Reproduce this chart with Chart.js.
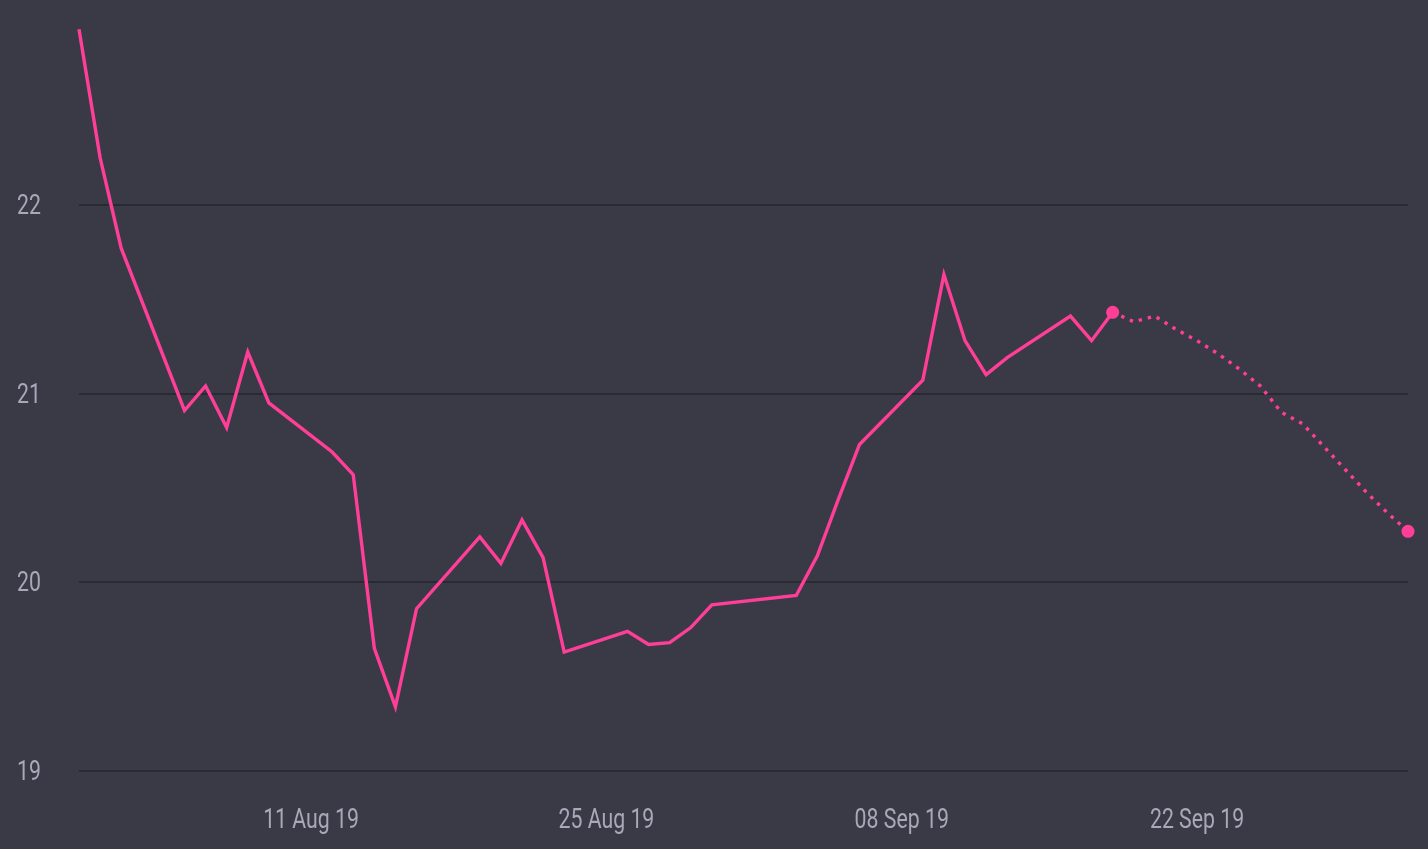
<!DOCTYPE html>
<html>
<head>
<meta charset="utf-8">
<title>Price chart</title>
<script src="https://cdn.jsdelivr.net/npm/chart.js@4/dist/chart.umd.min.js"></script>
<style>
    html, body {
        margin: 0;
        padding: 0;
        background: #3a3a47;
    }
    #chart-wrap {
        position: relative;
        width: 1428px;
        height: 849px;
    }
</style>
</head>
<body>
<div id="chart-wrap">
    <canvas id="priceChart"></canvas>
</div>
<script>
// Actual closing values (trading days only)
const actualDates = [
    '2019-07-31', '2019-08-01', '2019-08-02', '2019-08-05', '2019-08-06',
    '2019-08-07', '2019-08-08', '2019-08-09', '2019-08-12', '2019-08-13',
    '2019-08-14', '2019-08-15', '2019-08-16', '2019-08-19', '2019-08-20',
    '2019-08-21', '2019-08-22', '2019-08-23', '2019-08-26', '2019-08-27',
    '2019-08-28', '2019-08-29', '2019-08-30', '2019-09-03', '2019-09-04',
    '2019-09-05', '2019-09-06', '2019-09-09', '2019-09-10', '2019-09-11',
    '2019-09-12', '2019-09-13', '2019-09-16', '2019-09-17', '2019-09-18'
];
const actualValues = [
    22.93, 22.25, 21.77, 20.91, 21.04,
    20.82, 21.22, 20.95, 20.69, 20.57,
    19.65, 19.34, 19.86, 20.24, 20.10,
    20.33, 20.13, 19.63, 19.74, 19.67,
    19.68, 19.76, 19.88, 19.93, 20.14,
    20.44, 20.73, 21.07, 21.63, 21.28,
    21.10, 21.19, 21.41, 21.28, 21.43
];

// Forecast (dotted)
const forecastDates = [
    '2019-09-18', '2019-09-19', '2019-09-20', '2019-09-21', '2019-09-22',
    '2019-09-23', '2019-09-24', '2019-09-25', '2019-09-26', '2019-09-27',
    '2019-09-28', '2019-09-29', '2019-09-30', '2019-10-01', '2019-10-02'
];
const forecastValues = [
    21.43, 21.38, 21.41, 21.34, 21.28,
    21.21, 21.13, 21.04, 20.90, 20.84,
    20.72, 20.60, 20.48, 20.37, 20.27
];

const xTickDates = ['2019-08-11', '2019-08-25', '2019-09-08', '2019-09-22'];
const xTickLabels = ['11 Aug 19', '25 Aug 19', '08 Sep 19', '22 Sep 19'];
const yTicks = [19, 20, 21, 22];

const startDate = '2019-07-31';
const endDate = '2019-10-02';

const LABEL_COLOR = '#a9a8b9';
const LABEL_FONT = "28px Roboto, 'Noto Sans', sans-serif";
const LABEL_SQUEEZE = 0.76;   // the original face is a condensed one

let priceChart = null;

/**
 * Days since the first date of the chart
 */
function dayIndex(dateStr) {
    const ms = Date.parse(dateStr + 'T00:00:00Z') - Date.parse(startDate + 'T00:00:00Z');
    return Math.round(ms / 86400000);
}

function toPoints(dates, values) {
    return dates.map((d, i) => ({ x: dayIndex(d), y: values[i] }));
}

/**
 * Draw a squeezed text at (x, y)
 */
function drawCondensed(ctx, text, x, y, align) {
    ctx.save();
    ctx.translate(x, y);
    ctx.scale(LABEL_SQUEEZE, 1);
    ctx.textAlign = align;
    ctx.fillText(text, 0, 0);
    ctx.restore();
}

/**
 * Tick labels, placed with the chart's own scales but drawn condensed
 */
const condensedLabels = {
    id: 'condensedLabels',
    afterDraw(chart) {
        const ctx = chart.ctx;
        const xScale = chart.scales.x;
        const yScale = chart.scales.y;

        ctx.save();
        ctx.font = LABEL_FONT;
        ctx.fillStyle = LABEL_COLOR;
        ctx.textBaseline = 'middle';

        yTicks.forEach(v => {
            drawCondensed(ctx, String(v), yScale.right - 38, yScale.getPixelForValue(v) + 2, 'right');
        });

        xTickDates.forEach((d, i) => {
            drawCondensed(ctx, xTickLabels[i], xScale.getPixelForValue(dayIndex(d)), xScale.top + 50, 'center');
        });
        ctx.restore();
    }
};

/**
 * Build the chart
 */
function initPriceChart() {
    const ctx = document.getElementById('priceChart');
    if (!ctx) {
        console.error('Chart canvas not found');
        return;
    }

    const pink = '#ff3f97';

    const actualPoints = toPoints(actualDates, actualValues);
    const forecastPoints = toPoints(forecastDates, forecastValues);

    priceChart = new Chart(ctx.getContext('2d'), {
        type: 'line',
        data: {
            datasets: [{
                label: 'Actual',
                data: actualPoints,
                borderColor: pink,
                backgroundColor: pink,
                borderWidth: 3.4,
                tension: 0,
                fill: false,
                clip: 8,
                pointRadius: actualPoints.map((p, i) => i === actualPoints.length - 1 ? 6.5 : 0),
                pointBorderWidth: 0,
                pointBackgroundColor: pink
            }, {
                label: 'Forecast',
                data: forecastPoints,
                borderColor: pink,
                backgroundColor: pink,
                borderWidth: 3.4,
                borderDash: [3.4, 6],
                borderCapStyle: 'butt',
                tension: 0,
                fill: false,
                clip: 8,
                pointRadius: forecastPoints.map((p, i) => i === forecastPoints.length - 1 ? 6.5 : 0),
                pointBorderWidth: 0,
                pointBackgroundColor: pink
            }]
        },
        options: {
            responsive: true,
            maintainAspectRatio: false,
            animation: false,
            layout: {
                padding: { top: 16, right: 20, left: 0, bottom: 0 }
            },
            plugins: {
                legend: { display: false },
                title: { display: false },
                tooltip: { enabled: false }
            },
            scales: {
                x: {
                    type: 'linear',
                    min: dayIndex(startDate),
                    max: dayIndex(endDate),
                    grid: { display: false, drawTicks: false },
                    border: { display: false },
                    afterBuildTicks: function(scale) {
                        scale.ticks = xTickDates.map(d => ({ value: dayIndex(d) }));
                    },
                    afterFit: function(scale) {
                        scale.height = 78;
                        scale.paddingLeft = 0;
                        scale.paddingRight = 0;
                    },
                    ticks: { display: false }
                },
                y: {
                    min: 19,
                    max: 23,
                    grid: {
                        color: '#2a2a33',
                        lineWidth: 2,
                        drawTicks: false
                    },
                    border: { display: false },
                    afterBuildTicks: function(scale) {
                        scale.ticks = yTicks.map(v => ({ value: v }));
                    },
                    afterFit: function(scale) {
                        scale.width = 79;
                        scale.paddingTop = 0;
                        scale.paddingBottom = 0;
                    },
                    ticks: { display: false }
                }
            }
        },
        plugins: [condensedLabels]
    });
}

document.addEventListener('DOMContentLoaded', function() {
    if (typeof Chart === 'undefined') {
        console.error('Chart.js is not loaded');
        return;
    }
    initPriceChart();
});
</script>
</body>
</html>
